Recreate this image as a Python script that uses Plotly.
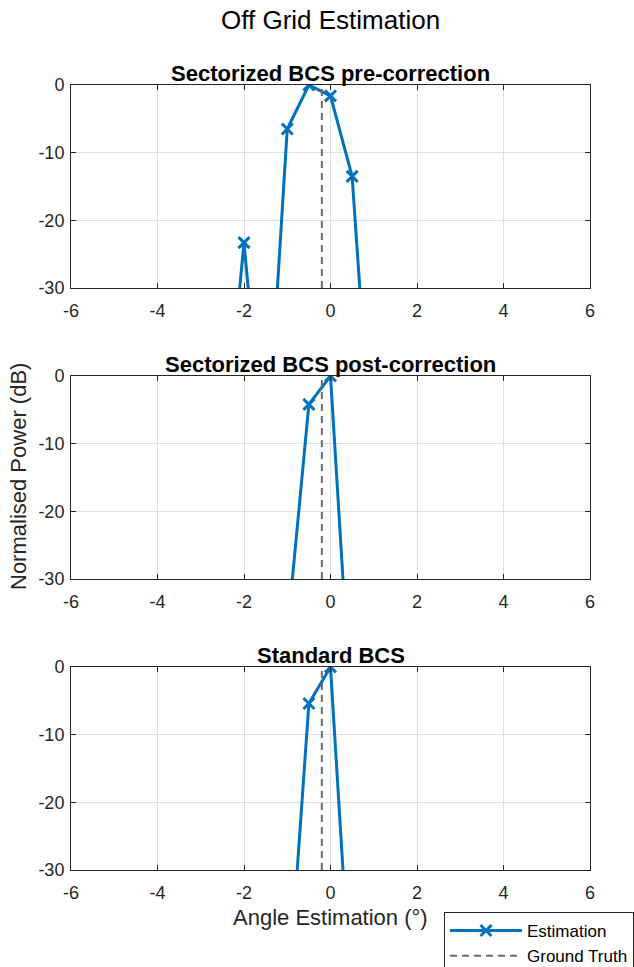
import plotly.graph_objects as go

# Data
angles1 = [-2.5, -2.0, -1.5, -1.0, -0.5, 0.0, 0.5, 1.0]
power1 = [-57, -23.3, -58, -6.5, 0.0, -1.6, -13.5, -60]

angles2 = [-1.0, -0.5, 0.0, 0.5]
power2 = [-38, -4.2, 0.0, -52]

angles3 = [-1.0, -0.5, 0.0, 0.5]
power3 = [-51, -5.4, 0.0, -52]

ground_truth = -0.2
titles = ["Sectorized BCS pre-correction", "Sectorized BCS post-correction", "Standard BCS"]
xticks = [-6, -4, -2, 0, 2, 4, 6]
yticks = [-30, -20, -10, 0]

W, H = 634, 967
L, R, T, B = 71, 44, 85, 97
ph = H - T - B
pw = W - L - R
tops = [85, 376, 667]
bots = [288, 579, 870]

def dom(t, b):
    return [(H - B - b) / ph, (H - B - t) / ph]

def py(p):
    return (H - B - p) / ph

def px(p):
    return (p - L) / pw

blue = "#0072BD"
axc = "#262626"
fnt = "Liberation Sans, Arial, sans-serif"

fig = go.Figure()
series = [(angles1, power1), (angles2, power2), (angles3, power3)]
for i, (xa, ya) in enumerate(series):
    sfx = "" if i == 0 else str(i + 1)
    fig.add_trace(go.Scatter(
        x=xa, y=ya, mode="lines+markers",
        line=dict(color=blue, width=3),
        marker=dict(symbol="x-thin", size=11, line=dict(color=blue, width=3), color=blue),
        name="Estimation", showlegend=(i == 0),
        xaxis="x" + sfx, yaxis="y" + sfx, cliponaxis=True,
    ))
    fig.add_trace(go.Scatter(
        x=[ground_truth, ground_truth], y=[-30, 0], mode="lines",
        line=dict(color="#6b6b6b", width=2, dash="7px,5px"),
        name="Ground Truth", showlegend=(i == 0),
        xaxis="x" + sfx, yaxis="y" + sfx,
    ))

common_x = dict(range=[-6, 6], tickvals=xticks, ticktext=[str(v) for v in xticks],
                showline=True, linecolor=axc, linewidth=1, mirror="allticks",
                ticks="inside", ticklen=5, tickcolor=axc, ticklabelstandoff=6,
                showgrid=True, gridcolor="#dfdfdf", gridwidth=1, zeroline=False,
                tickfont=dict(size=18, color=axc, family=fnt))
common_y = dict(range=[-30, 0], tickvals=yticks, ticktext=[str(v) for v in yticks],
                showline=True, linecolor=axc, linewidth=1, mirror="allticks",
                ticks="inside", ticklen=5, tickcolor=axc, ticklabelstandoff=2,
                showgrid=True, gridcolor="#dfdfdf", gridwidth=1, zeroline=False,
                tickfont=dict(size=18, color=axc, family=fnt))

layout = dict(
    width=W, height=H,
    margin=dict(l=L, r=R, t=T, b=B, autoexpand=False),
    paper_bgcolor="white", plot_bgcolor="white",
    font=dict(family=fnt, color=axc),
    showlegend=True,
    legend=dict(x=px(444), y=py(912), xanchor="left", yanchor="top",
                bordercolor=axc, borderwidth=1, bgcolor="white",
                font=dict(size=17, color="#000000", family=fnt), itemwidth=72,
                tracegroupgap=0),
)
annotations = []
for i in range(3):
    sfx = "" if i == 0 else str(i + 1)
    layout["xaxis" + sfx] = dict(common_x, domain=[0, 1], anchor="y" + sfx)
    layout["yaxis" + sfx] = dict(common_y, domain=dom(tops[i], bots[i]), anchor="x" + sfx)
    annotations.append(dict(text="<b>" + titles[i] + "</b>", x=0.5, xref="paper",
                            y=dom(tops[i], bots[i])[1], yref="paper", yanchor="bottom",
                            yshift=-3, showarrow=False,
                            font=dict(size=22, color="#000000", family=fnt)))

annotations.append(dict(text="Off Grid Estimation", x=0.5, xref="paper", y=py(20), yref="paper",
                        yanchor="middle", showarrow=False,
                        font=dict(size=26, color="#000000", family=fnt)))
annotations.append(dict(text="Angle Estimation (°)", x=0.5, xref="paper", y=py(917), yref="paper",
                        yanchor="middle", showarrow=False,
                        font=dict(size=22, color=axc, family=fnt)))
annotations.append(dict(text="Normalised Power (dB)", textangle=-90, x=px(18), xref="paper",
                        y=py(477), yref="paper", showarrow=False, xanchor="center", yanchor="middle",
                        font=dict(size=22, color=axc, family=fnt)))
layout["annotations"] = annotations

fig.update_layout(**layout)
fig.write_html("out.html", config={"displayModeBar": False},
               post_script="document.body.style.margin='0';document.body.style.overflow='hidden';")
